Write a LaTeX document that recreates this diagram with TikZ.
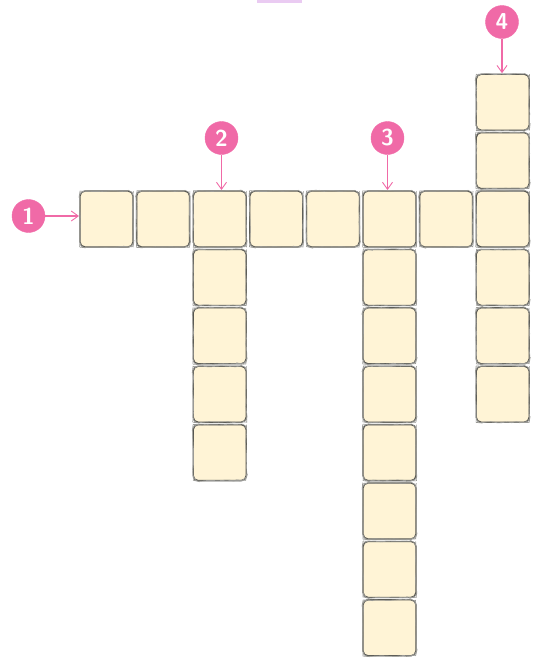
\documentclass[tikz,border=0pt]{standalone}
\usetikzlibrary{arrows.meta,decorations.pathmorphing}
\definecolor{cream}{HTML}{FFF4D6}
\definecolor{boxline}{HTML}{55554F}
\definecolor{mpink}{HTML}{F06AA7}
\definecolor{lav}{HTML}{EACBF2}
\tikzset{
  cell/.style={draw=boxline, fill=cream, line width=1.3pt, rounded corners=5pt,
    minimum width=53pt, minimum height=56pt, inner sep=0pt, outer sep=0pt,
    postaction={draw=boxline!60, line width=0.6pt, rounded corners=5pt,
      decorate, decoration={random steps, segment length=5pt, amplitude=0.6pt}}},
  marker/.style={circle, fill=mpink, draw=mpink, minimum size=33pt, inner sep=0pt,
    text=white, font=\fontsize{23}{23}\selectfont\sffamily\bfseries},
  pointer/.style={draw=mpink, line width=1.1pt, -{Straight Barb[length=7pt,width=10pt,line width=0.9pt]}, shorten >=1pt}
}
\begin{document}
\begin{tikzpicture}[x=1pt,y=-1pt]
\useasboundingbox (0,0) rectangle (538,662);
\fill[lav] (257,0) rectangle (302,2.5);
% horizontal row
\foreach \i in {0,...,7}{
  \node[cell] (r\i) at ({106.5+56.6*\i},219) {};
}
% column under box 2
\foreach \j in {1,...,4}{
  \node[cell] (a\j) at (219.7,{219+58.4*\j}) {};
}
% column under box 5
\foreach \j in {1,...,7}{
  \node[cell] (b\j) at (389.5,{219+58.4*\j}) {};
}
% column through box 7
\foreach \j in {1,...,3}{
  \node[cell] (c\j) at (502.7,{219+58.4*\j}) {};
}
\node[cell] (u1) at (502.7,160.6) {};
\node[cell] (u2) at (502.7,102.2) {};
% markers
\node[marker] (m1) at (28.5,216) {1};
\node[marker] (m2) at (221.5,138) {2};
\node[marker] (m3) at (387.5,138) {3};
\node[marker] (m4) at (502,22) {4};
\draw[pointer] (m1.east) -- (r0.west|-m1.east);
\draw[pointer] (m2.south) -- (m2.south|-r2.north);
\draw[pointer] (m3.south) -- (m3.south|-r5.north);
\draw[pointer] (m4.south) -- (m4.south|-u2.north);
\end{tikzpicture}
\end{document}
